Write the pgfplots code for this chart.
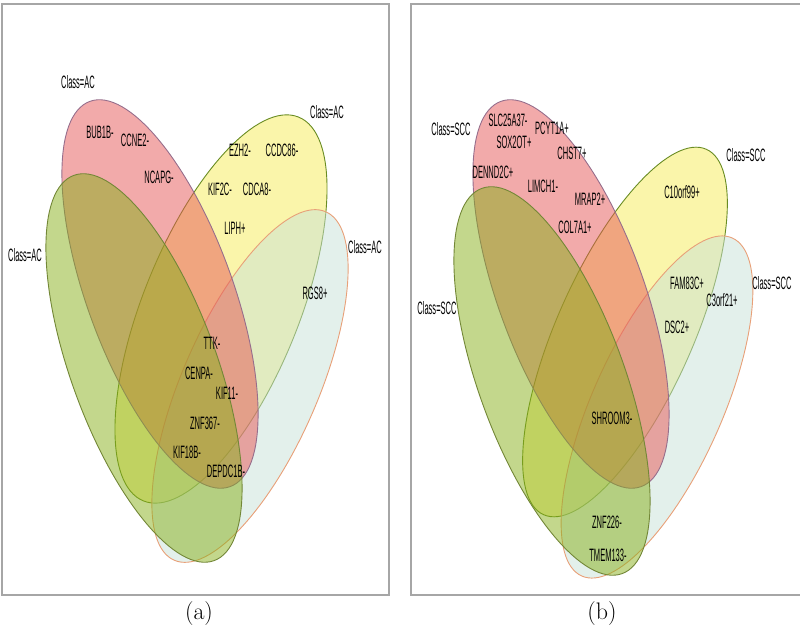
\documentclass[border=0pt]{standalone}
\usepackage{fontspec}
\usepackage{pgfplots}
\pgfplotsset{compat=1.18}
\newfontfamily\gfont[FakeStretch=0.42]{Liberation Sans}

\definecolor{cYel}{RGB}{245,235,85}
\definecolor{cBlu}{RGB}{200,225,215}
\definecolor{cPnk}{RGB}{230,85,85}
\definecolor{cGrn}{RGB}{135,175,25}
\definecolor{sYel}{RGB}{105,140,35}
\definecolor{sBlu}{RGB}{232,160,120}
\definecolor{sPnk}{RGB}{150,110,140}
\definecolor{sGrn}{RGB}{115,135,55}

% centre x, centre y, angle, semi-axes, fill, stroke
\newcommand{\venn}[7]{%
  \filldraw[fill=#6, fill opacity=0.5, draw=#7, line width=0.9bp,
    rotate around={#3:(axis cs:#1,#2)}]
    (axis cs:#1,#2) ellipse [x radius=#4bp, y radius=#5bp];}
\newcommand{\gn}[3]{\node[font=\gfont\fontsize{18}{20}\selectfont, inner sep=0pt] at (axis cs:#1,#2) {#3};}

\begin{document}
\begin{tikzpicture}
\useasboundingbox (0,0) rectangle (800bp,637bp);
\begin{axis}[
    width=800bp, height=637bp, scale only axis,
    xmin=0, xmax=800, ymin=0, ymax=637,
    hide axis, clip=false,
]
% panel frames
\draw[gray!70, line width=1.2bp] (axis cs:2,42) rectangle (axis cs:389,633);
\draw[gray!70, line width=1.2bp] (axis cs:411,42) rectangle (axis cs:805,633);

% (a)
\venn{221}{328}{68}{207}{78}{cYel}{sYel}
\venn{250}{251}{66.5}{190}{68}{cBlu}{sBlu}
\venn{160}{343}{-70}{205}{73}{cPnk}{sPnk}
\venn{144}{269}{-70}{205}{73}{cGrn}{sGrn}

\gn{78}{555}{Class=AC}
\gn{327}{525}{Class=AC}
\gn{25}{382}{Class=AC}
\gn{365}{390}{Class=AC}
\gn{100}{505}{BUB1B-}
\gn{135}{497}{CCNE2-}
\gn{159}{460}{NCAPG-}
\gn{240}{487}{EZH2-}
\gn{282}{487}{CCDC86-}
\gn{220}{448}{KIF2C-}
\gn{257}{448}{CDCA8-}
\gn{235}{409}{LIPH+}
\gn{315}{344}{RGS8+}
\gn{212}{294}{TTK-}
\gn{199}{264}{CENPA-}
\gn{227}{244}{KIF11-}
\gn{205}{214}{ZNF367-}
\gn{187}{185}{KIF18B-}
\gn{226}{166}{DEPDC1B-}

% (b)
\venn{625}{305}{66}{200}{68}{cYel}{sYel}
\venn{657}{230}{66}{185}{65}{cBlu}{sBlu}
\venn{571}{343}{-70}{205}{73}{cPnk}{sPnk}
\venn{552}{256}{-70}{205}{73}{cGrn}{sGrn}

\gn{451}{508}{Class=SCC}
\gn{746}{482}{Class=SCC}
\gn{772}{354}{Class=SCC}
\gn{437}{329}{Class=SCC}
\gn{508}{517}{SLC25A37-}
\gn{552}{509}{PCYT1A+}
\gn{514}{495}{SOX2OT+}
\gn{572}{484}{CHST7+}
\gn{493}{465}{DENND2C+}
\gn{543}{451}{LIMCH1-}
\gn{590}{438}{MRAP2+}
\gn{575}{410}{COL7A1+}
\gn{682}{445}{C10orf99+}
\gn{687}{354}{FAM83C+}
\gn{722}{337}{C3orf21+}
\gn{677}{310}{DSC2+}
\gn{612}{219}{SHROOM3-}
\gn{607}{115}{ZNF226-}
\gn{608}{82}{TMEM133-}

\node[font=\fontsize{24}{28}\selectfont] at (axis cs:199,23) {(a)};
\node[font=\fontsize{24}{28}\selectfont] at (axis cs:602,23) {(b)};
\end{axis}
\end{tikzpicture}
\end{document}
